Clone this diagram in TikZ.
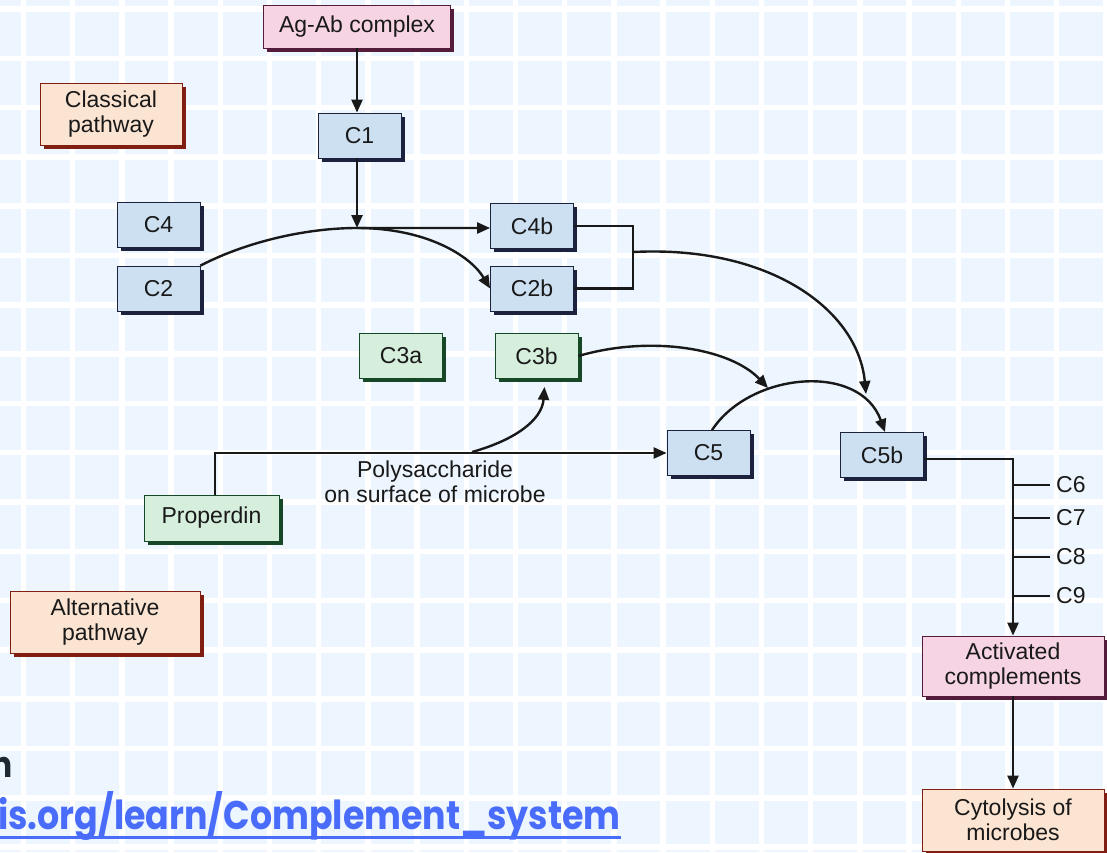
\documentclass[tikz,border=0pt]{standalone}
\usepackage{fontspec}
\setmainfont{Liberation Sans}
\newfontfamily\linkfont{Poppins}[FakeStretch=0.87]
\usepackage{tikz}
\usetikzlibrary{arrows.meta,positioning,shadows}
\definecolor{BgC}{RGB}{237,246,254}
\definecolor{BlueC}{RGB}{204,224,242}
\definecolor{NavyC}{RGB}{28,34,62}
\definecolor{GreenC}{RGB}{214,238,220}
\definecolor{GreenD}{RGB}{22,72,40}
\definecolor{PinkC}{RGB}{246,212,228}
\definecolor{PlumC}{RGB}{84,28,58}
\definecolor{PeachC}{RGB}{252,228,210}
\definecolor{RustC}{RGB}{128,30,18}
\definecolor{LinkC}{RGB}{74,108,250}
\definecolor{InkC}{RGB}{30,40,48}
\newcommand\boxfont{\fontsize{23}{25.5}\selectfont}
\tikzset{
  pbox/.style={rectangle,draw=#1,line width=0.8pt,inner sep=0pt,align=center,
               font=\boxfont,text=black!90,
               drop shadow={shadow xshift=3.5pt,shadow yshift=-3.5pt,fill=#1,opacity=1}},
  cbox/.style={pbox=NavyC,fill=BlueC,minimum width=83pt,minimum height=45pt},
  gbox/.style={pbox=GreenD,fill=GreenC,minimum width=83pt,minimum height=45pt},
  pkbox/.style={pbox=PlumC,fill=PinkC},
  tagbox/.style={pbox=RustC,fill=PeachC,minimum height=62pt},
  lbl/.style={font=\boxfont,text=black!90,inner sep=0pt},
  arr/.style={-{Triangle[length=13pt,width=11pt]},line width=2.4pt,black!90},
  wire/.style={line width=2.4pt,black!90},
}

\begin{document}
\begin{tikzpicture}[x=1pt,y=1pt]
  % page and grid
  \path[use as bounding box] (0,0) rectangle (1107,-852);
  \clip (0,0) rectangle (1107,-852);
  \fill[BgC] (0,0) rectangle (1107,-852);
  \foreach \k in {0,...,22}
    \draw[white,line width=5.5pt] (23.5+49.2*\k,0) -- ++(0,-852);
  \foreach \k in {0,...,17}
    \draw[white,line width=5.5pt] (0,-9-49.3*\k) -- ++(1107,0);

  % classical pathway
  \node[pkbox,minimum width=187pt,minimum height=43pt] (agab) at (357,-26.5) {Ag-Ab complex};
  \node[cbox] (c1) at (359.5,-135.5) {C1};
  \node[tagbox,minimum width=142pt] (classical) at (111,-114) {Classical\\pathway};
  \node[cbox] (c4) at (158.5,-225) {C4};
  \node[cbox] (c2) at (158.5,-288.5) {C2};
  \node[cbox] (c4b) at (532,-226) {C4b};
  \node[cbox] (c2b) at (532,-288.5) {C2b};
  \coordinate (j1) at (357,-228);
  \coordinate (b1) at (633,-252);

  % alternative pathway
  \node[gbox] (c3a) at (401,-356) {C3a};
  \node[gbox] (c3b) at (536.5,-356) {C3b};
  \node[gbox,minimum width=135pt,minimum height=46pt] (properdin) at (211.5,-518) {Properdin};
  \node[tagbox,minimum width=190pt] (alternative) at (105,-622) {Alternative\\pathway};
  \node[lbl,align=center] (poly) at (435,-482) {Polysaccharide\\on surface of microbe};
  \coordinate (j2) at (472,-452);

  % common pathway
  \node[cbox] (c5) at (708.5,-453) {C5};
  \node[cbox] (c5b) at (882,-455) {C5b};
  \node[pkbox,minimum width=182pt,minimum height=60pt] (activated) at (1013,-666) {Activated\\complements};
  \node[tagbox,minimum width=182pt] (cytolysis) at (1013,-820) {Cytolysis of\\microbes};
  \coordinate (hit1) at (866,-394);
  \coordinate (hit2) at (768,-388);

  % connectors
  \draw[arr] (agab.south) -- (agab.south |- c1.north);
  \draw[arr] (c1.south -| j1) -- (j1);
  \draw[arr] (c2.north east) .. controls (250,-240) and (310,-228) .. (j1) -- (c4b.west |- j1);
  \draw[arr] (j1) .. controls (425,-228) and (470,-255) .. (c2b.west);
  \draw[wire] (c4b.east) -| (b1) |- (c2b.east);
  \draw[arr] (b1) .. controls (770,-245) and (858,-310) .. (hit1);
  \draw[arr] (c3b.east) .. controls (650,-335) and (730,-348) .. (hit2);
  \draw[arr] ([xshift=3.5pt]c5.north) .. controls (750,-372) and (860,-362) .. ([xshift=3pt]c5b.north);
  \draw[arr] ([xshift=3.5pt]properdin.north) |- (c5.west);
  \draw[arr] (j2) .. controls (515,-440) and (542,-420) .. ([xshift=8pt,yshift=-8pt]c3b.south);
  \draw[arr] ([yshift=-4pt]c5b.east) -| (activated.north);
  \foreach \lab/\y in {C6/485,C7/518,C8/557,C9/596}{
    \node[lbl,anchor=west] (\lab) at (1056,-\y) {\lab};
    \draw[wire] (activated.north |- \lab.west) -- ([xshift=-6pt]\lab.west);
  }
  \draw[arr] (activated.south) -- (cytolysis.north);

  % source link
  \node[font=\linkfont\bfseries\fontsize{40}{44}\selectfont,text=LinkC,anchor=base west,inner sep=0pt] (link) at (-2,-829) {is.org/learn/Complement\_system};
  \draw[LinkC,line width=3pt] ([yshift=-8pt]link.base west) -- ([yshift=-8pt]link.base east);
  \node[font=\linkfont\bfseries\fontsize{36}{40}\selectfont,text=InkC,anchor=base east,inner sep=0pt] (cut) at (13,-777) {n};
\end{tikzpicture}
\end{document}
